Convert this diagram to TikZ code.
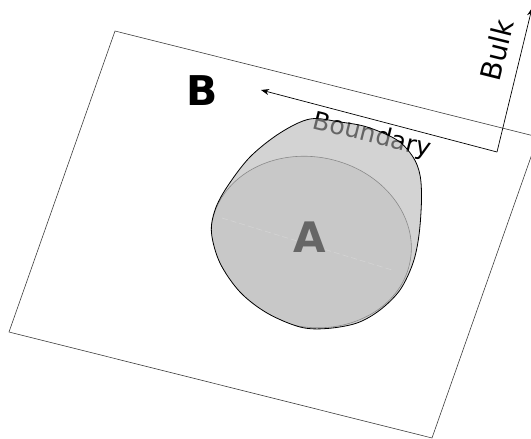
\documentclass[tikz,border=0pt]{standalone}
\usepackage{fontspec}
\setmainfont{DejaVu Sans}
\usetikzlibrary{arrows.meta}
\definecolor{edgegray}{HTML}{3C3C3C}
\definecolor{blobfill}{gray}{0.70}
\definecolor{innerfill}{HTML}{C8C8C8}
\definecolor{innerline}{HTML}{8A8A8A}
\definecolor{labelA}{HTML}{666666}
\begin{document}
\begin{tikzpicture}[x=1pt,y=-1pt,
  plane/.style={draw=edgegray, line width=0.6pt},
  axis/.style={draw=black, line width=0.7pt, -{Stealth[length=8pt,width=6pt,inset=2.5pt]}},
  biglabel/.style={font=\bfseries\fontsize{41}{41}\selectfont, inner sep=0pt},
  axislabel/.style={font=\fontsize{25}{25}\selectfont, inner sep=0pt},
  blobshape/.style={line width=0.8pt}]
\useasboundingbox (0,0) rectangle (531,439);
\clip (0,0) rectangle (531,439);

% tilted plane
\coordinate (p1) at (115,31);
\coordinate (p2) at (538,137);
\coordinate (p3) at (432,438);
\coordinate (p4) at (9,332);
\draw[plane] (p1) -- (p2) -- (p3) -- (p4) -- cycle;

% boundary / bulk directions
\coordinate (origin) at (497,152);
\coordinate (bndtip) at (261,90);
\coordinate (blktip) at (532,8);
\draw[axis] (origin) -- (bndtip);
\draw[axis] (origin) -- (blktip);

% labels
\node[biglabel] (lblB) at (202.5,91) {B};
\node[axislabel, rotate=-14] (lblBoundary) at (372,136) {Boundary};
\node[axislabel, font=\fontsize{28}{28}\selectfont, rotate=76] (lblBulk) at (497,50) {Bulk};

% region A: translucent body
\def\blobpath{plot[smooth cycle, tension=0.55] coordinates {
  (310,119) (340,122) (367,127) (397,140) (413,157) (420,175) (421.5,200)
  (419,235) (413,263) (400,290) (380,310) (357,323) (327,328.5) (300,327)
  (267,313) (240,292) (220,263) (211.5,233) (215,210) (227,187) (250,157) (280,133)}}
\path[fill=blobfill, fill opacity=0.57] \blobpath;
\begin{scope}
  \clip \blobpath;
  \fill[innerfill] (311,242) ellipse [x radius=101pt, y radius=85pt, rotate=-12];
  \draw[innerline, line width=0.6pt] (311,242) ellipse [x radius=101pt, y radius=85pt, rotate=-12];
  \draw[white, opacity=0.22, line width=0.6pt, dash pattern=on 6pt off 3pt] (222,218) -- (392,270);
\end{scope}
\draw[blobshape] \blobpath;

\node[biglabel, text=labelA, font=\bfseries\fontsize{42}{42}\selectfont] (lblA) at (310,237.5) {A};
\end{tikzpicture}
\end{document}
